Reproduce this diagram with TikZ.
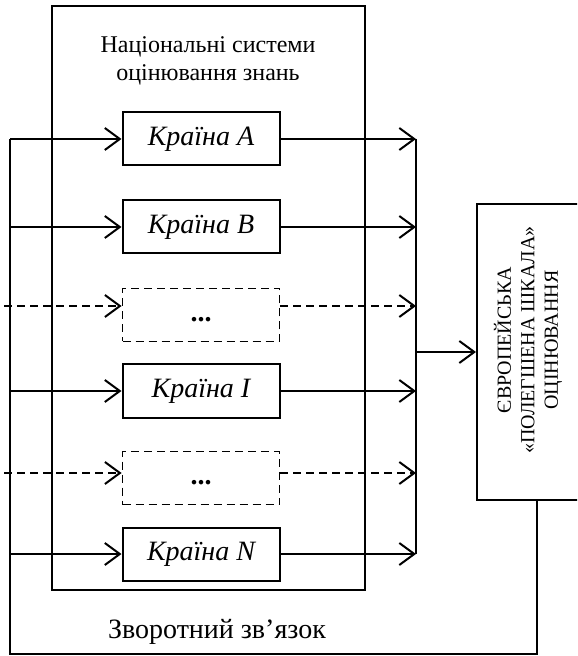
\documentclass[tikz,border=0pt]{standalone}
\usepackage{fontspec}
\setmainfont{Liberation Serif}
\usetikzlibrary{arrows.meta,positioning,fit}
\tikzstyle{country} = [rectangle, draw, line width=1pt, minimum width=78.5pt, minimum height=26.5pt, inner sep=0pt, font=\fontsize{14}{16}\selectfont\itshape]
\tikzstyle{gapbox} = [country, line width=0.9pt, dash pattern=on 4pt off 2.5pt, font=\fontsize{14}{16}\selectfont\bfseries]
\tikzstyle{scalebox} = [rectangle, draw, line width=1pt, minimum width=51pt, minimum height=148pt]
\tikzstyle{scaletext} = [rotate=90, align=center, font=\fontsize{10}{11.8}\selectfont]
\tikzstyle{line} = [line width=1pt]
\tikzstyle{arrow} = [line width=1pt, -{Straight Barb[length=7.5pt,width=11pt]}]
\tikzstyle{arrowdashed} = [arrow, dash pattern=on 4pt off 2.5pt]

\begin{document}
\begin{tikzpicture}[x=0.5pt, y=-0.5pt]
\clip (0,0) rectangle (577,656);

% National systems frame
\coordinate (fr1) at (52,6);
\coordinate (fr2) at (365,590);
\node[fit=(fr1)(fr2), inner sep=0pt, draw, line width=1pt] (national) {};
\node[align=center, font=\fontsize{12}{14}\selectfont] (title) at (208,61) {Національні системи\\оцінювання знань};

% Countries
\node[country] (ca) at (201,139) {Країна A};
\node[country] (cb) at (201,227) {Країна B};
\node[gapbox] (g1) at (201,315) {\strut...};
\node[country] (ci) at (201,391) {Країна I};
\node[gapbox] (g2) at (201,478) {\strut...};
\node[country] (cn) at (201,554) {Країна N};
\coordinate[above=4.5pt of g1.west] (g1in);
\coordinate[above=2.5pt of g2.west] (g2in);

% European scale
\node[scalebox] (scale) at (528,352) {};
\node[scaletext] (scalelabel) at (528,340) {ЄВРОПЕЙСЬКА\\«ПОЛЕГШЕНА ШКАЛА»\\ОЦІНЮВАННЯ};

% Helper points
\coordinate (bus) at (416,0);
\coordinate (dstart) at (4,0);
\coordinate (fbl) at (10,654);
\coordinate (fbr) at (537,654);

% Feedback loop
\draw[line] (scale.south -| fbr) -- (fbr) -- (fbl) -- (fbl |- ca);
\node[font=\fontsize{14}{16}\selectfont] (feedback) at (217,632) {Зворотний зв’язок};

% Inputs
\draw[arrow] (fbl |- ca) -- (ca.west);
\draw[arrow] (fbl |- cb) -- (cb.west);
\draw[arrowdashed] (g1in -| dstart) -- (g1in);
\draw[arrow] (fbl |- ci) -- (ci.west);
\draw[arrowdashed] (g2in -| dstart) -- (g2in);
\draw[arrow] (fbl |- cn) -- (cn.west);

% Outputs to the bus
\draw[arrow] (ca.east) -- (ca -| bus);
\draw[arrow] (cb.east) -- (cb -| bus);
\draw[arrowdashed] (g1.east |- g1in) -- (g1in -| bus);
\draw[arrow] (ci.east) -- (ci -| bus);
\draw[arrowdashed] (g2.east |- g2in) -- (g2in -| bus);
\draw[arrow] (cn.east) -- (cn -| bus);
\draw[line] (ca -| bus) -- (cn -| bus);
\draw[arrow] (scale.west -| bus) -- (scale.west);

\end{tikzpicture}
\end{document}
